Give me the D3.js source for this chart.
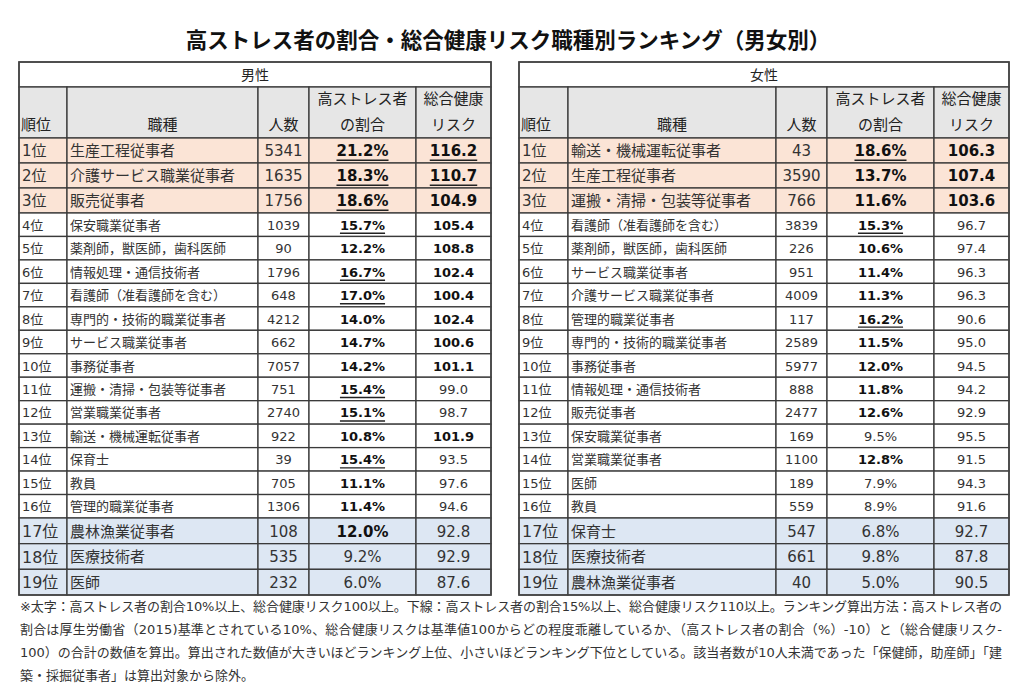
<!DOCTYPE html>
<html lang="ja">
<head>
<meta charset="utf-8">
<title>高ストレス者の割合・総合健康リスク職種別ランキング</title>
<script src="https://d3js.org/d3.v7.min.js"></script>
<style>
  body { margin: 0; background: #fff; }
  svg { display: block; font-family: "DejaVu Sans", "Noto Sans CJK JP", sans-serif; }
  .title { font-family: "Noto Sans CJK JP", sans-serif; font-weight: 700; }
  .note { font-family: "DejaVu Sans", "Noto Sans CJK JP", sans-serif; fill: #333; }
</style>
</head>
<body>
<script>
// ---- data ----
const ranks = d3.range(1, 20).map(d => d + "位");

const maleJobs = ["生産工程従事者", "介護サービス職業従事者", "販売従事者", "保安職業従事者",
  "薬剤師，獣医師，歯科医師", "情報処理・通信技術者", "看護師（准看護師を含む）",
  "専門的・技術的職業従事者", "サービス職業従事者", "事務従事者", "運搬・清掃・包装等従事者",
  "営業職業従事者", "輸送・機械運転従事者", "保育士", "教員", "管理的職業従事者",
  "農林漁業従事者", "医療技術者", "医師"];
const maleCount = [5341, 1635, 1756, 1039, 90, 1796, 648, 4212, 662, 7057, 751, 2740, 922, 39, 705, 1306, 108, 535, 232];
const maleStress = [21.2, 18.3, 18.6, 15.7, 12.2, 16.7, 17.0, 14.0, 14.7, 14.2, 15.4, 15.1, 10.8, 15.4, 11.1, 11.4, 12.0, 9.2, 6.0];
const maleRisk = [116.2, 110.7, 104.9, 105.4, 108.8, 102.4, 100.4, 102.4, 100.6, 101.1, 99.0, 98.7, 101.9, 93.5, 97.6, 94.6, 92.8, 92.9, 87.6];

const femaleJobs = ["輸送・機械運転従事者", "生産工程従事者", "運搬・清掃・包装等従事者",
  "看護師（准看護師を含む）", "薬剤師，獣医師，歯科医師", "サービス職業従事者",
  "介護サービス職業従事者", "管理的職業従事者", "専門的・技術的職業従事者", "事務従事者",
  "情報処理・通信技術者", "販売従事者", "保安職業従事者", "営業職業従事者", "医師", "教員",
  "保育士", "医療技術者", "農林漁業従事者"];
const femaleCount = [43, 3590, 766, 3839, 226, 951, 4009, 117, 2589, 5977, 888, 2477, 169, 1100, 189, 559, 547, 661, 40];
const femaleStress = [18.6, 13.7, 11.6, 15.3, 10.6, 11.4, 11.3, 16.2, 11.5, 12.0, 11.8, 12.6, 9.5, 12.8, 7.9, 8.9, 6.8, 9.8, 5.0];
const femaleRisk = [106.3, 107.4, 103.6, 96.7, 97.4, 96.3, 96.3, 90.6, 95.0, 94.5, 94.2, 92.9, 95.5, 91.5, 94.3, 91.6, 92.7, 87.8, 90.5];

const headLabels = [["順位"], ["職種"], ["人数"], ["高ストレス者", "の割合"], ["総合健康", "リスク"]];

const titleText = "高ストレス者の割合・総合健康リスク職種別ランキング（男女別）";
const noteLines = [
  "※太字：高ストレス者の割合10%以上、総合健康リスク100以上。下線：高ストレス者の割合15%以上、総合健康リスク110以上。ランキング算出方法：高ストレス者の",
  "割合は厚生労働省（2015)基準とされている10%、総合健康リスクは基準値100からどの程度乖離しているか、（高ストレス者の割合（%）-10）と（総合健康リスク-",
  "100）の合計の数値を算出。算出された数値が大きいほどランキング上位、小さいほどランキング下位としている。該当者数が10人未満であった「保健師，助産師」「建",
  "築・採掘従事者」は算出対象から除外。"
];

// ---- layout ----
const W = 1024, H = 689;
const svg = d3.select("body").append("svg").attr("width", W).attr("height", H);

svg.append("text").attr("class", "title")
  .attr("x", 508).attr("y", 40).attr("dy", "0.36em")
  .attr("text-anchor", "middle").attr("font-size", 21.5).attr("fill", "#111")
  .text(titleText);

// row scale: top 3 rows and bottom 3 rows are taller
const y = d3.scaleLinear().domain([0, 3, 16, 19]).range([138, 213, 518, 595]);
const tableTop = 62, headTop = 87;
const stroke = "#3a3a3a";

function rowFill(i) {
  if (i < 3) return "#fbe4d6";
  if (i >= 16) return "#dde7f3";
  return "#fff";
}
function rowSize(i) { return (i < 3 || i >= 16) ? 15 : 13; }

function drawTable(label, edges, jobs, counts, stress, risk) {
  const x = d3.scaleLinear().domain(d3.range(6)).range(edges);
  const g = svg.append("g");
  const rows = d3.range(jobs.length);

  // title row
  g.append("rect").attr("x", x(0)).attr("y", tableTop)
    .attr("width", x(5) - x(0)).attr("height", headTop - tableTop)
    .attr("fill", "#fff").attr("stroke", stroke).attr("stroke-width", 1.3);
  g.append("text").attr("x", (x(0) + x(5)) / 2).attr("y", (tableTop + headTop) / 2 + 1)
    .attr("dy", "0.35em").attr("text-anchor", "middle").attr("font-size", 14).attr("fill", "#222")
    .text(label);

  // header cells
  headLabels.forEach((lines, c) => {
    g.append("rect").attr("x", x(c)).attr("y", headTop)
      .attr("width", x(c + 1) - x(c)).attr("height", y(0) - headTop)
      .attr("fill", "#e6e6e6").attr("stroke", stroke).attr("stroke-width", 1.3);
    const tx = c === 0 ? x(c) + 2 : (x(c) + x(c + 1)) / 2;
    lines.forEach((t, k) => {
      g.append("text").attr("x", tx).attr("y", y(0) - 13 - (lines.length - 1 - k) * 26)
        .attr("dy", "0.35em").attr("text-anchor", c === 0 ? "start" : "middle")
        .attr("font-size", 15).attr("fill", "#222").text(t);
    });
  });

  // body cells
  rows.forEach(i => {
    const cy = (y(i) + y(i + 1)) / 2 + 0.5;
    const fs = rowSize(i);
    for (let c = 0; c < 5; c++) {
      g.append("rect").attr("x", x(c)).attr("y", y(i))
        .attr("width", x(c + 1) - x(c)).attr("height", y(i + 1) - y(i))
        .attr("fill", rowFill(i)).attr("stroke", stroke).attr("stroke-width", 1.3);
    }
    const cells = [
      { c: 0, t: ranks[i], anchor: "start", bold: false, ul: false },
      { c: 1, t: jobs[i], anchor: "start", bold: false, ul: false },
      { c: 2, t: String(counts[i]), anchor: "middle", bold: false, ul: false },
      { c: 3, t: stress[i].toFixed(1) + "%", anchor: "middle", bold: stress[i] >= 10, ul: stress[i] >= 15 },
      { c: 4, t: risk[i].toFixed(1), anchor: "middle", bold: risk[i] >= 100, ul: risk[i] >= 110 }
    ];
    cells.forEach(d => {
      const tx = d.anchor === "start" ? x(d.c) + 3 : (x(d.c) + x(d.c + 1)) / 2;
      const size = d.c === 0 && i >= 16 ? fs + 1 : fs;
      const txt = g.append("text").attr("x", tx).attr("y", cy).attr("dy", "0.35em")
        .attr("text-anchor", d.anchor).attr("font-size", size)
        .attr("font-weight", d.bold ? 700 : 400)
        .attr("fill", d.bold ? "#111" : "#333").text(d.t);
      if (d.ul) {
        const w = txt.node().getComputedTextLength();
        g.append("line").attr("x1", tx - w / 2).attr("x2", tx + w / 2)
          .attr("y1", cy + size * 0.62).attr("y2", cy + size * 0.62)
          .attr("stroke", "#222").attr("stroke-width", 1.4);
      }
    });
  });

  // outer frame
  g.append("rect").attr("x", x(0)).attr("y", tableTop)
    .attr("width", x(5) - x(0)).attr("height", y(rows.length) - tableTop)
    .attr("fill", "none").attr("stroke", "#444").attr("stroke-width", 1.6);
}

drawTable("男性", [19, 67, 258, 309, 416, 491], maleJobs, maleCount, maleStress, maleRisk);
drawTable("女性", [519, 568, 776, 827, 934, 1009], femaleJobs, femaleCount, femaleStress, femaleRisk);

// footnote
noteLines.forEach((t, k) => {
  const txt = svg.append("text").attr("class", "note")
    .attr("x", 20).attr("y", 606 + k * 23).attr("dy", "0.36em")
    .attr("font-size", 13).text(t);
  if (k < noteLines.length - 1) {
    txt.attr("textLength", 982).attr("lengthAdjust", "spacing");
  }
});
</script>
</body>
</html>
